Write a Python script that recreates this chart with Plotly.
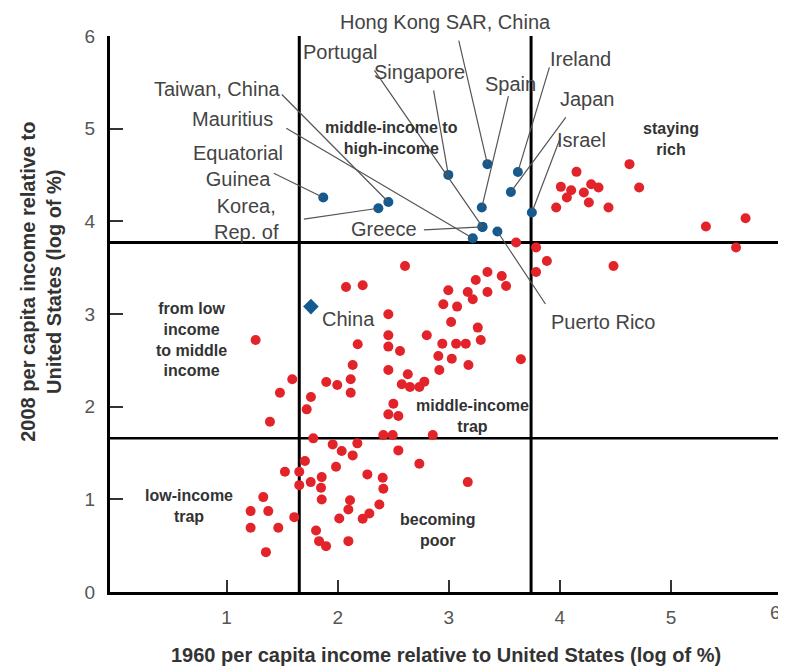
import plotly.graph_objects as go

# quadrant cut-offs (log of % of US income)
x_cuts = [1.654, 3.741]
y_cuts = [1.658, 3.771]

# axis ticks
x_ticks = [1, 2, 3, 4, 5, 6]
y_ticks = [0, 1, 2, 3, 4, 5, 6]

# highlighted economies (1960 vs 2008)
blue_names = ["Hong Kong SAR, China", "Portugal", "Singapore", "Spain", "Ireland", "Japan",
              "Israel", "Taiwan, China", "Mauritius", "Equatorial<br>Guinea", "Korea,<br>Rep. of",
              "Greece", "Puerto Rico"]
blue_x = [3.348, 3.303, 2.996, 3.297, 3.622, 3.559, 3.748, 2.456, 3.216, 1.870, 2.366, 3.303, 3.438]
blue_y = [4.617, 3.940, 4.501, 4.149, 4.533, 4.317, 4.095, 4.209, 3.817, 4.257, 4.141, 3.940, 3.890]

china_x = [1.759]
china_y = [3.080]

# all other economies
red_x = [4.627, 4.150, 4.009, 4.102, 4.063, 3.967, 4.216, 4.282, 4.348, 4.261, 4.438, 4.714, 5.315, 5.672,
         5.586, 3.606, 3.786, 3.883, 3.786, 4.483, 3.477, 3.516,
         2.606, 2.075, 2.225, 1.261, 2.456, 2.180, 2.456, 2.456, 2.561, 2.135, 2.456, 2.117, 2.117, 1.897,
         1.996, 1.591, 1.480, 1.759, 1.721, 1.390, 2.631, 2.577, 2.651, 2.735, 2.780, 2.501, 2.456, 2.546,
         2.411, 2.495, 2.856, 1.780, 2.802, 2.906, 2.915, 3.027, 2.942, 3.066, 3.153, 3.177, 3.288, 3.261,
         3.021, 2.951, 3.075, 2.996, 3.171, 3.216, 3.243, 3.348, 3.348, 3.649,
         1.955, 2.036, 2.177, 2.135, 2.546, 2.735, 1.705, 1.525, 1.654, 1.654, 1.985, 1.757, 1.856, 1.850,
         1.856, 2.267, 2.405, 2.411, 2.111, 2.096, 2.014, 2.285, 2.225, 2.375, 1.805, 1.832, 1.895, 2.096,
         3.171, 1.330, 1.216, 1.375, 1.216, 1.465, 1.609, 1.354]
red_y = [4.617, 4.534, 4.372, 4.336, 4.257, 4.149, 4.311, 4.401, 4.365, 4.203, 4.149, 4.365, 3.944, 4.033,
         3.717, 3.771, 3.717, 3.572, 3.454, 3.518, 3.410, 3.302,
         3.518, 3.292, 3.310, 2.719, 2.997, 2.673, 2.770, 2.648, 2.600, 2.449, 2.395, 2.295, 2.151, 2.266,
         2.233, 2.295, 2.151, 2.104, 1.971, 1.838, 2.349, 2.241, 2.212, 2.212, 2.270, 2.032, 1.917, 1.899,
         1.693, 1.693, 1.693, 1.658, 2.770, 2.546, 2.395, 2.518, 2.680, 2.680, 2.680, 2.449, 2.719, 2.853,
         2.914, 3.105, 3.080, 3.256, 3.238, 3.159, 3.367, 3.454, 3.238, 2.511,
         1.593, 1.521, 1.604, 1.474, 1.528, 1.384, 1.413, 1.298, 1.298, 1.153, 1.352, 1.186, 1.240, 1.125,
         0.999, 1.269, 1.233, 1.114, 0.991, 0.891, 0.794, 0.848, 0.790, 0.945, 0.664, 0.549, 0.495, 0.549,
         1.186, 1.024, 0.873, 0.873, 0.693, 0.693, 0.808, 0.430]

quad_text = ["middle-income to<br>high-income", "staying<br>rich", "from low<br>income<br>to middle<br>income",
             "middle-income<br>trap", "low-income<br>trap", "becoming<br>poor"]
quad_x = [2.48, 5.0, 0.687, 3.214, 0.66, 2.899]
quad_y = [4.897, 4.886, 2.727, 1.898, 0.923, 0.664]

# label placement, pixels from the point: leader tail (ax, ay) and text centre (dx, dy)
leader = [(-29, -125), (-109, -158), (-15, -86), (27, -113), (32, -106), (56, -76), (29, -76),
          (-108, -109), (-188, -111), (-51, -25), (-76, 11), (-60, 3), (49, 74)]
text_off = [(-42, -142), (-142, -175), (-29, -103), (29, -124), (63, -113), (77, -93), (50, -73),
            (-171, -113), (-240, -119), (-85, -32), (-132, 11), (-98, 2), (106, 90)]

RED = "#e3232a"
BLUE = "#135a90"
FONT = "Liberation Sans"
TICKFONT = dict(family=FONT, size=19, color="#555555")

fig = go.Figure()
fig.add_trace(go.Scatter(x=red_x, y=red_y, mode="markers",
                         marker=dict(color=RED, size=10, line=dict(width=0)), hoverinfo="x+y"))
fig.add_trace(go.Scatter(x=blue_x, y=blue_y, mode="markers", text=blue_names,
                         marker=dict(color=BLUE, size=10, line=dict(width=0))))
fig.add_trace(go.Scatter(x=china_x, y=china_y, mode="markers", text=["China"],
                         marker=dict(color=BLUE, size=12, symbol="diamond", line=dict(width=0))))

# quadrant dividers
for xc in x_cuts:
    fig.add_shape(type="line", x0=xc, x1=xc, y0=0, y1=6, layer="below",
                  line=dict(color="black", width=3))
fig.add_shape(type="line", x0=-0.05, x1=6, y0=y_cuts[0], y1=y_cuts[0], layer="below",
              line=dict(color="black", width=2.5))
fig.add_shape(type="line", x0=-0.05, x1=6, y0=y_cuts[1], y1=y_cuts[1], layer="below",
              line=dict(color="black", width=3))

annotations = []
for name, x, y, (ax, ay), (dx, dy) in zip(blue_names, blue_x, blue_y, leader, text_off):
    annotations.append(dict(x=x, y=y, text="", showarrow=True, arrowhead=0, arrowwidth=1.2,
                            arrowcolor="#555555", ax=ax, ay=ay, standoff=0))
    annotations.append(dict(x=x, y=y, text=name, showarrow=False, xshift=dx, yshift=-dy,
                            font=dict(family=FONT, size=20, color="#444444")))
annotations.append(dict(x=china_x[0], y=china_y[0], text="China", showarrow=False, xshift=38, yshift=-12,
                        font=dict(family=FONT, size=20, color="#444444")))

for t, x, y in zip(quad_text, quad_x, quad_y):
    annotations.append(dict(x=x, y=y, text=t, showarrow=False,
                            font=dict(family=FONT, size=16, color="#333333", weight="bold")))

# last x tick label sits at the right edge, so it is drawn right-aligned
annotations.append(dict(x=x_ticks[-1], xref="x", y=0, yref="paper", yanchor="top", xanchor="right",
                        xshift=1, yshift=-8, text=str(x_ticks[-1]), showarrow=False, font=TICKFONT))

annotations.append(dict(xref="paper", yref="paper", x=0.5, y=0, yanchor="middle", yshift=-63,
                        text="1960 per capita income relative to United States (log of %)", showarrow=False,
                        font=dict(family=FONT, size=20, color="#333333", weight="bold")))
annotations.append(dict(xref="paper", yref="paper", x=0, y=0.558, xanchor="center", xshift=-69,
                        textangle=-90, showarrow=False,
                        text="2008 per capita income relative to<br>United States (log of %)",
                        font=dict(family=FONT, size=20, color="#333333", weight="bold")))

# page body adds an 8px margin, so the figure is 8px smaller on each side
fig.update_layout(
    width=778, height=660,
    margin=dict(l=102, r=4, t=28, b=76),
    plot_bgcolor="white", paper_bgcolor="white",
    showlegend=False,
    annotations=annotations,
    font=dict(family=FONT),
)
fig.update_xaxes(range=[-0.05, 6], tickvals=x_ticks, ticktext=[str(t) for t in x_ticks[:-1]] + [""],
                 showgrid=False, zeroline=False,
                 showline=True, linecolor="black", linewidth=3, ticks="inside", ticklen=12,
                 tickwidth=1.5, tickcolor="#333333", ticklabelstandoff=6, tickfont=TICKFONT)
fig.update_yaxes(range=[0, 6], tickvals=y_ticks, showgrid=False, zeroline=False,
                 showline=True, linecolor="black", linewidth=3, ticks="inside", ticklen=13,
                 tickwidth=1.5, tickcolor="#333333", ticklabelstandoff=8, tickfont=TICKFONT)

fig.write_html("out.html")
